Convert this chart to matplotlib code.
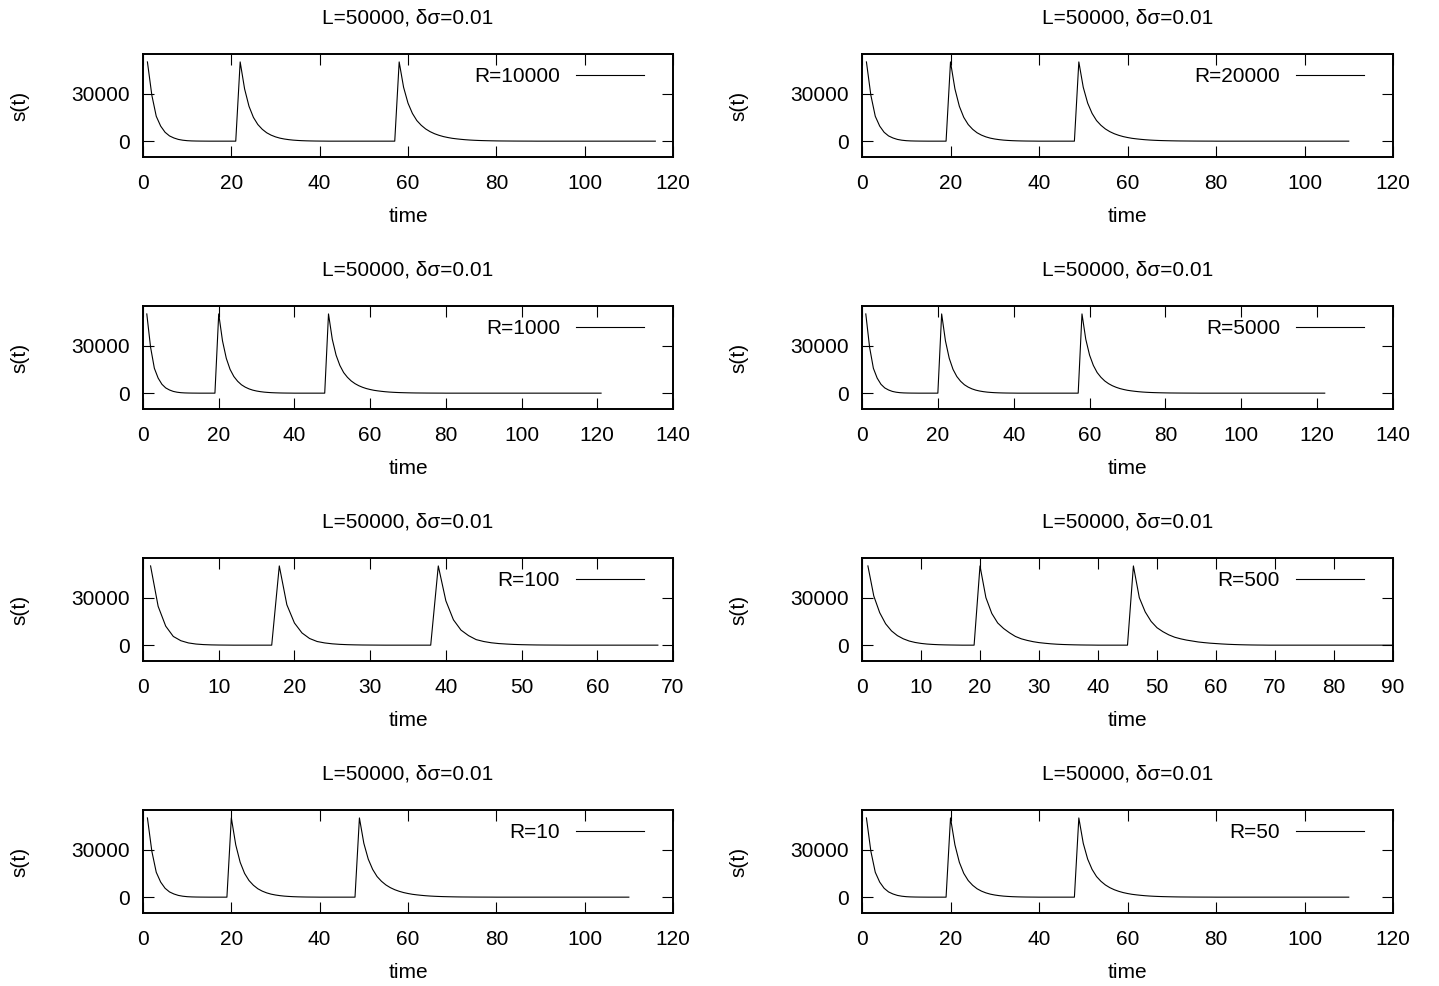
import matplotlib
matplotlib.use('Agg')
import matplotlib.pyplot as plt
import numpy as np

plt.rcParams['font.family'] = ['Liberation Sans', 'DejaVu Sans']

TITLE = "L=50000, δσ=0.01"
# panel order: row by row, left column then right column
R_LABELS = ["R=10000", "R=20000", "R=1000", "R=5000", "R=100", "R=500", "R=10", "R=50"]
X_MAX = [120, 120, 140, 140, 70, 90, 120, 120]
X_STEP = [20, 20, 20, 20, 10, 10, 20, 20]
PEAK_TIMES = [[1, 22, 58], [1, 20, 49], [1, 20, 49], [1, 21, 58],
              [1, 18, 39], [1, 20, 46], [1, 20, 49], [1, 20, 49]]
END_TIME = [116, 110, 121, 122, 68, 90, 110, 110]
SHAPE_SET = ["slow", "slow", "slow", "slow", "fast", "medium", "slow", "slow"]

# decay values read at unit time steps after each peak
SLOW_1 = [50000, 29000, 15700, 9500, 5600, 3300, 2000, 1100, 600, 300, 150, 80, 40, 20]
SLOW_2 = [50000, 33000, 22000, 15000, 10500, 7500, 5300, 3800, 2700, 1900, 1350, 950,
          650, 450, 300, 200, 130, 80, 50, 30]
SLOW_3 = [50000, 34000, 24000, 17500, 13000, 10000, 7700, 6000, 4700, 3700, 2900, 2300,
          1800, 1450, 1150, 900, 700, 550, 430, 340, 270, 210, 160, 120, 100, 80, 60,
          45, 35, 25, 20]
MED_1 = [50000, 31000, 20500, 13500, 9000, 6000, 4000, 2600, 1700, 1100, 700, 450, 280,
         170, 100, 50]
MED_2 = [50000, 30000, 20000, 14000, 10500, 7800, 5500, 4000, 3000, 2200, 1600, 1200, 850,
         600, 420, 300, 200, 130, 80, 50]
MED_3 = [50000, 30000, 21000, 15000, 11000, 8500, 6500, 5000, 4000, 3200, 2600, 2000, 1600,
         1250, 1000, 750, 550, 400, 280, 190, 120, 70, 40]
FAST_1 = [50000, 24500, 12000, 5500, 2800, 1400, 700, 350, 170, 80, 40]
FAST_2 = [50000, 25500, 14000, 7700, 4200, 2300, 1400, 840, 500, 300, 180, 100, 60, 30]
FAST_3 = [50000, 28000, 16000, 9500, 6000, 3500, 2300, 1500, 1000, 700, 450, 300, 200,
          120, 80, 50, 30]
SHAPES = {"slow": [SLOW_1, SLOW_2, SLOW_3],
          "medium": [MED_1, MED_2, MED_3],
          "fast": [FAST_1, FAST_2, FAST_3]}

W, H = 1439, 986
fig = plt.figure(figsize=(W / 100, H / 100), dpi=100)

col_left = [143, 862]
col_width = [530, 531]
row_top0 = 54
row_step = 252
ax_h = 103
FS = 15

for i in range(8):
    row, col = divmod(i, 2)
    top = row_top0 + row * row_step
    left = col_left[col]
    ax = fig.add_axes([left / W, 1 - (top + ax_h) / H, col_width[col] / W, ax_h / H])

    t = np.arange(1, END_TIME[i] + 1)
    s = np.zeros(len(t))
    for p, d in zip(PEAK_TIMES[i], SHAPES[SHAPE_SET[i]]):
        for k, v in enumerate(d):
            idx = p + k - 1
            if idx < len(s):
                s[idx] = v
    ax.plot(t, s, color='black', lw=0.8, label=R_LABELS[i])

    ax.set_xlim(0, X_MAX[i])
    ax.set_ylim(-10000, 55000)
    ax.set_xticks(np.arange(0, X_MAX[i] + 1, X_STEP[i]))
    ax.set_yticks([0, 30000])
    ax.set_yticklabels(['0', '30000'])
    ax.tick_params(direction='in', length=8, width=0.8, top=True, right=True,
                   labelsize=FS, colors='black')
    ax.tick_params(axis='x', pad=12)
    ax.tick_params(axis='y', pad=9.5)
    for sp in ax.spines.values():
        sp.set_linewidth(1.4)

    ax.set_title(TITLE, fontsize=FS, y=1 + 36 / ax_h, va='center', pad=0)
    ax.set_xlabel('time', fontsize=FS)
    ax.xaxis.label.set_va('center')
    ax.xaxis.set_label_coords(0.5, -59 / ax_h)
    ax.set_ylabel('s(t)', fontsize=FS)
    ax.yaxis.label.set_va('center')
    ax.yaxis.set_label_coords(-123 / col_width[col], 0.5)

    ax.legend(loc='center right', bbox_to_anchor=(0.946, 0.777), frameon=False,
              markerfirst=False, handlelength=3.3, handletextpad=0.75, borderpad=0,
              borderaxespad=0, fontsize=FS)

fig.savefig('out.png', dpi=100)
